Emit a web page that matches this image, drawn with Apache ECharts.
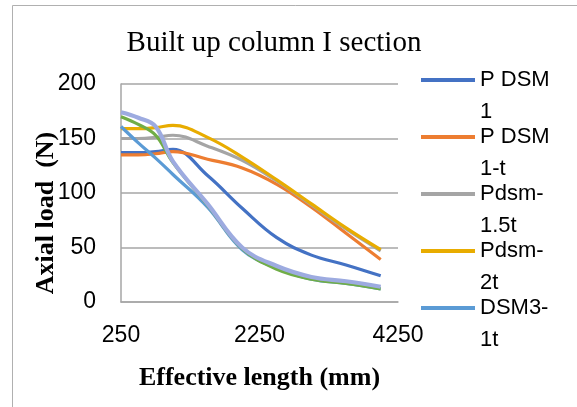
<!DOCTYPE html>
<html>
<head>
<meta charset="utf-8">
<script src="https://cdn.jsdelivr.net/npm/echarts@6/dist/echarts.min.js"></script>
<style>
html,body{margin:0;padding:0;background:#fff;}
#chart{width:577px;height:407px;}
</style>
</head>
<body>
<div id="chart"></div>
<script>
var lengths = [250, 500, 750, 1000, 1500, 2000, 2500, 3000, 3500, 4000];
var pDsm1   = [137, 137, 138, 140, 116, 86, 59, 43, 34, 24];
var pDsm1t  = [135, 135, 136, 138, 131, 123, 108, 87, 63, 39];
var pdsm15t = [150, 150, 151, 153, 143, 130, 111, 89, 67, 47];
var pdsm2t  = [159, 159, 160, 162, 151, 133, 112, 90, 68, 48];
var dsm31t  = [161, 146, 132, 117, 87, 48, 31, 21, 17, 12];
var dsm315t = [170, 163, 153, 128, 89, 49, 30, 21, 17, 12];
var dsm32t  = [174, 169, 161, 129, 90, 50, 33, 23, 19, 14];

var seriesNames = ['P DSM 1', 'P DSM 1-t', 'Pdsm-1.5t', 'Pdsm-2t', 'DSM3-1t', 'DSM3-1.5t', 'DSM3-2t'];
var legendLabels = ['P DSM\n1', 'P DSM\n1-t', 'Pdsm-\n1.5t', 'Pdsm-\n2t', 'DSM3-\n1t', 'DSM3-\n1.5t', 'DSM3-\n2t'];
var seriesValues = [pDsm1, pDsm1t, pdsm15t, pdsm2t, dsm31t, dsm315t, dsm32t];
var colors = ['#4472C4', '#ED7D31', '#A5A5A5', '#E8AC00', '#5B9BD5', '#70AD47', '#9DABE0'];
var widths = [3.2, 3.2, 3.2, 3.2, 3.2, 3.2, 4.2];
var xTicks = {min: 250, max: 4250, interval: 2000};
var yTicks = {min: 0, max: 200, interval: 50};

var series = seriesValues.map(function (vals, i) {
  return {
    name: seriesNames[i],
    type: 'line',
    smooth: 0.4,
    showSymbol: false,
    symbol: 'none',
    color: colors[i],
    lineStyle: {width: widths[i], color: colors[i], cap: 'butt'},
    data: lengths.map(function (x, j) { return [x, vals[j]]; })
  };
});

var chart = echarts.init(document.getElementById('chart'), null, {renderer: 'canvas'});
chart.setOption({
  animation: false,
  backgroundColor: '#fff',
  title: {
    text: 'Built up column I section',
    left: 274,
    textAlign: 'center',
    top: 29,
    padding: 0,
    textStyle: {fontFamily: 'Liberation Serif', fontSize: 29, fontWeight: 'normal', color: '#000'}
  },
  graphic: [{
    type: 'rect',
    shape: {x: 12.5, y: 5.5, width: 600, height: 450},
    style: {fill: 'none', stroke: '#b0b0b0', lineWidth: 1},
    silent: true
  }],
  legend: {
    orient: 'vertical',
    left: 421,
    top: 32,
    padding: 0,
    itemGap: -39,
    itemWidth: 54,
    itemHeight: 4,
    icon: 'rect',
    data: seriesNames.slice(0, 5),
    formatter: function (name) { return '\n' + legendLabels[seriesNames.indexOf(name)]; },
    textStyle: {fontFamily: 'Liberation Sans', fontSize: 22, lineHeight: 32, color: '#000'}
  },
  grid: {left: 121, top: 84, width: 277, height: 218, containLabel: false},
  xAxis: {
    type: 'value',
    min: xTicks.min, max: xTicks.max, interval: xTicks.interval,
    name: 'Effective length (mm)',
    nameLocation: 'middle',
    nameGap: 63,
    nameMoveOverlap: false,
    nameTextStyle: {fontFamily: 'Liberation Serif', fontSize: 26, fontWeight: 'bold', color: '#000'},
    axisLine: {show: true, lineStyle: {color: '#a6a6a6', width: 1.5}},
    axisTick: {show: false},
    splitLine: {show: false},
    axisLabel: {margin: 22, fontFamily: 'Liberation Sans', fontSize: 23, color: '#000',
      formatter: function (v) { return String(v); }}
  },
  yAxis: {
    type: 'value',
    min: yTicks.min, max: yTicks.max, interval: yTicks.interval,
    name: 'Axial load  (N)',
    nameLocation: 'middle',
    nameGap: 62,
    nameMoveOverlap: false,
    nameTextStyle: {fontFamily: 'Liberation Serif', fontSize: 26, fontWeight: 'bold', color: '#000', padding: [0, 40, 0, 0]},
    axisLine: {show: true, lineStyle: {color: '#a6a6a6', width: 1.5}},
    axisTick: {show: false},
    splitLine: {show: true, lineStyle: {color: '#a6a6a6', width: 1.5}},
    axisLabel: {margin: 25, fontFamily: 'Liberation Sans', fontSize: 23, color: '#000',
      formatter: function (v) { return String(v); }}
  },
  series: series
});
</script>
</body>
</html>
